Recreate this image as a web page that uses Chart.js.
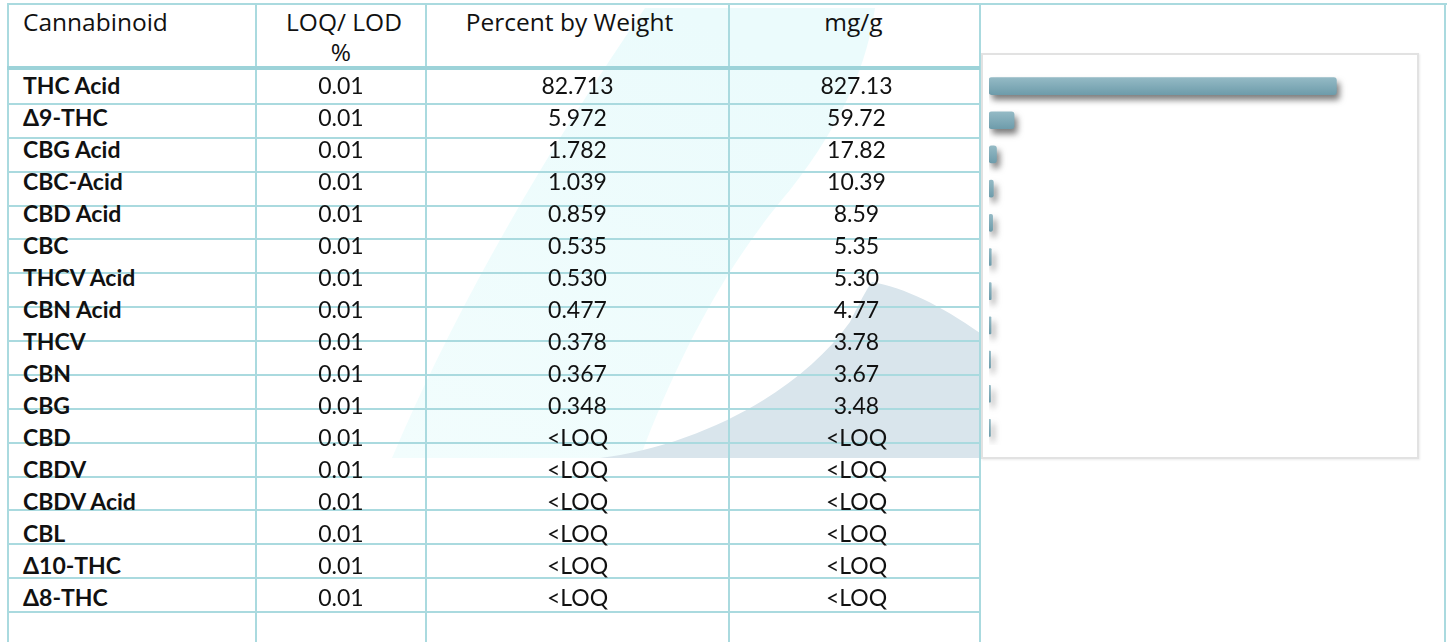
<!DOCTYPE html>
<html>
<head>
<meta charset="utf-8">
<script src="https://cdn.jsdelivr.net/npm/chart.js@4.4.1/dist/chart.umd.min.js"></script>
<style>
  html, body { margin: 0; padding: 0; background: #fff; }
  #page { position: relative; width: 1448px; height: 642px; overflow: hidden; }
  #mark { position: absolute; left: 0; top: 0; }
  .line { position: absolute; background: #aadadf; }
  .txt { position: absolute; white-space: nowrap; height: 32px; line-height: 32px; color: #111;
         font-family: Lato, "Liberation Sans", sans-serif; font-size: 23px; }
  .hd { position: absolute; white-space: nowrap; line-height: 30px; color: #111;
        font-family: "Open Sans", "Noto Sans", sans-serif; font-size: 24.5px; text-align: center; }
  .name { font-weight: bold; }
  #chartBox { position: absolute; left: 981px; top: 53px; width: 434px; height: 402px;
              border: 2px solid #e2e2e2; background: #fff; box-shadow: 1px 1px 2px rgba(0,0,0,0.08); }
</style>
</head>
<body>
<div id="page">
  <svg id="mark" width="1448" height="642">
    <defs>
      <linearGradient id="sail" x1="0" y1="1" x2="0.6" y2="0">
        <stop offset="0" stop-color="#f2fdfd"/>
        <stop offset="1" stop-color="#ebfbfc"/>
      </linearGradient>
    </defs>
    <path d="M392 458 C450 320 540 160 645 8 L875 8 C868 60 845 120 790 190 C730 260 680 350 640 458 Z" fill="url(#sail)"/>
    <path d="M600 458 C700 445 800 392 850 322 C860 302 866 290 872 282 C905 288 940 305 980 333 L980 458 Z" fill="#d9e5ec"/>
  </svg>
  <div id="chartBox"><canvas id="potencyChart" width="434" height="402"></canvas></div>
</div>
<script>
// table data
const cannabinoids = ['THC Acid', 'Δ9-THC', 'CBG Acid', 'CBC-Acid', 'CBD Acid', 'CBC', 'THCV Acid', 'CBN Acid',
    'THCV', 'CBN', 'CBG', 'CBD', 'CBDV', 'CBDV Acid', 'CBL', 'Δ10-THC', 'Δ8-THC'];
const loqLod = ['0.01', '0.01', '0.01', '0.01', '0.01', '0.01', '0.01', '0.01', '0.01',
    '0.01', '0.01', '0.01', '0.01', '0.01', '0.01', '0.01', '0.01'];
const percentByWeight = ['82.713', '5.972', '1.782', '1.039', '0.859', '0.535', '0.530', '0.477', '0.378',
    '0.367', '0.348', '<LOQ', '<LOQ', '<LOQ', '<LOQ', '<LOQ', '<LOQ'];
const mgPerGram = ['827.13', '59.72', '17.82', '10.39', '8.59', '5.35', '5.30', '4.77', '3.78',
    '3.67', '3.48', '<LOQ', '<LOQ', '<LOQ', '<LOQ', '<LOQ', '<LOQ'];

const page = document.getElementById('page');

function addLine(x, y, w, h, color) {
    const d = document.createElement('div');
    d.className = 'line';
    d.style.left = x + 'px';
    d.style.top = y + 'px';
    d.style.width = w + 'px';
    d.style.height = h + 'px';
    if (color) d.style.background = color;
    page.appendChild(d);
}

function addText(cls, text, x, y, w, align) {
    const d = document.createElement('div');
    d.className = cls;
    d.textContent = text;
    d.style.left = x + 'px';
    d.style.top = y + 'px';
    if (w) { d.style.width = w + 'px'; d.style.textAlign = align || 'center'; }
    page.appendChild(d);
}

// grid
const colEdges = [8, 256, 426, 729, 980, 1445];
addLine(7, 3, 1440, 2);
colEdges.forEach(x => addLine(x - 1, 3, 2, 640));
addLine(7, 66, 973, 4, '#9dd3d9');
for (let k = 0; k < 16; k++) {
    addLine(7, Math.round(103 + 33.87 * k), 973, 2);
}

// header
addText('hd', 'Cannabinoid', 23, 7);
addText('hd', 'LOQ/ LOD', 256, 7, 176);
addText('hd', '%', 256, 37, 170);
addText('hd', 'Percent by Weight', 426, 7, 287);
addText('hd', 'mg/g', 729, 7, 249);

// rows
cannabinoids.forEach((name, i) => {
    const y = 69 + 32 * i;
    addText('txt name', name, 23, y);
    addText('txt', loqLod[i], 256, y, 170);
    addText('txt', percentByWeight[i], 426, y, 303);
    addText('txt', mgPerGram[i], 729, y, 255);
});

// chart: only the quantified cannabinoids
const chartLabels = cannabinoids.filter((c, i) => !isNaN(parseFloat(percentByWeight[i])));
const chartValues = percentByWeight.map(parseFloat).filter(v => !isNaN(v));

const barShadow = {
    id: 'barShadow',
    beforeDatasetsDraw(chart) {
        const ctx = chart.ctx;
        ctx.save();
        ctx.shadowColor = 'rgba(70, 70, 70, 0.7)';
        ctx.shadowBlur = 6;
        ctx.shadowOffsetX = 3;
        ctx.shadowOffsetY = 5;
    },
    afterDatasetsDraw(chart) {
        chart.ctx.restore();
    }
};

function barFill(context) {
    const chart = context.chart;
    const yScale = chart.scales.y;
    const flat = 'rgb(124, 168, 182)';
    if (!yScale || context.dataIndex === undefined) return flat;
    const yc = yScale.getPixelForValue(context.dataIndex);
    if (!isFinite(yc)) return flat;
    const g = chart.ctx.createLinearGradient(0, yc - 8.5, 0, yc + 8.5);
    g.addColorStop(0, 'rgb(148, 186, 197)');
    g.addColorStop(1, 'rgb(110, 156, 171)');
    return g;
}

const ctx = document.getElementById('potencyChart').getContext('2d');
const potencyChart = new Chart(ctx, {
    type: 'bar',
    data: {
        labels: chartLabels,
        datasets: [{
            label: 'Percent by Weight',
            data: chartValues,
            backgroundColor: barFill,
            borderWidth: 0,
            borderRadius: 3,
            borderSkipped: false,
            barThickness: 17
        }]
    },
    plugins: [barShadow],
    options: {
        indexAxis: 'y',
        responsive: false,
        animation: false,
        layout: { padding: { left: 6, right: 8, top: 14, bottom: 12 } },
        scales: {
            x: { display: false, min: 0, max: 100 },
            y: { display: false }
        },
        plugins: {
            legend: { display: false },
            tooltip: { enabled: false }
        }
    }
});
</script>
</body>
</html>
